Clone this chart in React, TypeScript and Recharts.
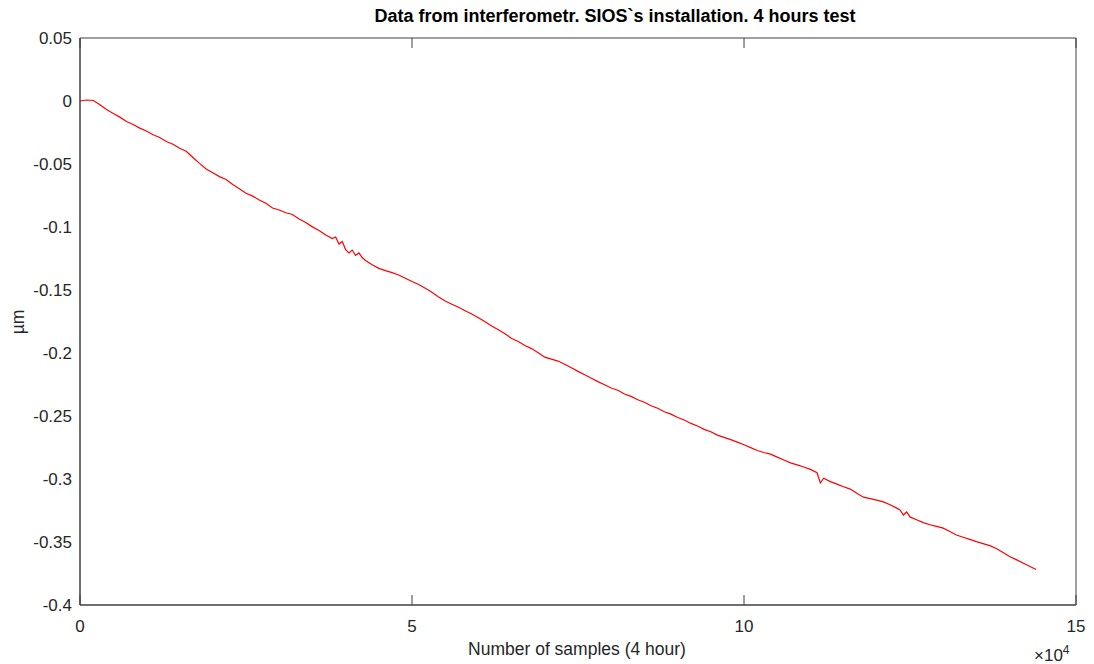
import { LineChart, Line, XAxis, YAxis } from "recharts";

// samples in thousands (x axis is shown as ×10^4)
const SAMPLES_K = [
  0, 1, 2, 3, 4, 5, 6, 7, 8, 9, 10, 11, 12, 13, 14, 15, 16, 17, 18, 19, 20,
  21, 22, 23, 24, 25, 26, 27, 28, 29, 30, 31, 32, 33, 34, 35, 36, 37, 38,
  38.5, 39, 39.5, 40, 40.5, 41, 41.5, 42, 42.5, 43, 44, 45, 46, 47, 48, 49,
  50, 51, 52, 53, 54, 55, 56, 57, 58, 59, 60, 61, 62, 63, 64, 65, 66, 67, 68,
  69, 70, 71, 72, 73, 74, 75, 76, 77, 78, 79, 80, 81, 82, 83, 84, 85, 86, 87,
  88, 89, 90, 91, 92, 93, 94, 95, 96, 97, 98, 99, 100, 101, 102, 103, 104,
  105, 106, 107, 108, 109, 110, 111, 111.5, 112, 113, 114, 115, 116, 117, 118,
  119, 120, 121, 122, 123, 123.5, 124, 124.5, 125, 126, 127, 128, 129, 130,
  131, 132, 133, 134, 135, 136, 137, 138, 139, 140, 141, 142, 143, 144,
];

// displacement, µm
const DISPLACEMENT = [
  0.0, 0.0008, 0.0004, -0.003, -0.0067, -0.01, -0.0128, -0.0163, -0.0187,
  -0.0215, -0.0238, -0.0268, -0.029, -0.0321, -0.0343, -0.0375, -0.0399,
  -0.0448, -0.0495, -0.0539, -0.057, -0.06, -0.0623, -0.0662, -0.0696,
  -0.0732, -0.0755, -0.0785, -0.0812, -0.0849, -0.0865, -0.0887, -0.0901,
  -0.0936, -0.0964, -0.0999, -0.1027, -0.1063, -0.1092,
  -0.1079, -0.1135, -0.1115, -0.1179, -0.1206, -0.1183, -0.1226, -0.1206,
  -0.1242, -0.1266, -0.1299, -0.1328, -0.1346, -0.1362, -0.1381, -0.1407,
  -0.1432, -0.1456, -0.1486, -0.1518, -0.1555, -0.1587, -0.1613, -0.1637,
  -0.1664, -0.1691, -0.172, -0.1752, -0.1785, -0.1816, -0.1847, -0.1885,
  -0.1908, -0.1941, -0.1965, -0.1998, -0.2033, -0.2049, -0.2064, -0.2089,
  -0.2117, -0.2146, -0.2173, -0.22, -0.2227, -0.2252, -0.2278, -0.2296,
  -0.2325, -0.2344, -0.2371, -0.2391, -0.2419, -0.2438, -0.2466, -0.2485,
  -0.2512, -0.2532, -0.2559, -0.2579, -0.2606, -0.2625, -0.2652, -0.267,
  -0.2688, -0.2707, -0.2728, -0.2751, -0.2774, -0.279, -0.2803, -0.2826,
  -0.2849, -0.2872, -0.2888, -0.2905, -0.2924, -0.295, -0.3032, -0.2994,
  -0.3021, -0.3041, -0.3061, -0.308, -0.3113, -0.3144, -0.3156, -0.3168,
  -0.3182, -0.3204, -0.3231, -0.3246, -0.3286, -0.3262, -0.3301, -0.3323,
  -0.3346, -0.3363, -0.3376, -0.339, -0.3417, -0.3444, -0.3462, -0.3479,
  -0.3497, -0.3513, -0.3529, -0.3552, -0.3583, -0.3615, -0.364, -0.3666,
  -0.3692, -0.3718,
];

const X_TICKS = [0, 50000, 100000, 150000];
const Y_TICKS = [0.05, 0, -0.05, -0.1, -0.15, -0.2, -0.25, -0.3, -0.35, -0.4];
const X_DOMAIN = [0, 150000];
const Y_DOMAIN = [-0.4, 0.05];

const data = SAMPLES_K.map((k, i) => ({ s: k * 1000, v: DISPLACEMENT[i] }));

const AXIS = "#404040";
const FONT = "'Liberation Sans', Arial, sans-serif";
const tickStyle = { fontSize: 17, fill: "#262626", fontFamily: FONT };
const noLabel = () => <g />;

export default function App() {
  return (
    <div style={{ position: "absolute", left: 0, top: 0, width: 1094, height: 664, background: "#fff", fontFamily: FONT }}>
      <div
        style={{
          position: "absolute",
          top: 6,
          left: 315,
          width: 600,
          textAlign: "center",
          fontWeight: "bold",
          fontSize: 18,
          color: "#000",
        }}
      >
        Data from interferometr. SIOS`s installation. 4 hours test
      </div>
      <div
        style={{
          position: "absolute",
          left: 18,
          top: 322,
          transform: "translate(-50%, -50%) rotate(-90deg)",
          fontSize: 17.5,
          color: "#262626",
        }}
      >
        µm
      </div>
      <div
        style={{
          position: "absolute",
          top: 639,
          left: 277,
          width: 600,
          textAlign: "center",
          fontSize: 17.5,
          color: "#262626",
        }}
      >
        Number of samples (4 hour)
      </div>
      <div style={{ position: "absolute", top: 643, left: 1034, fontSize: 17, color: "#262626" }}>
        ×10<sup style={{ fontSize: 12, verticalAlign: 7 }}>4</sup>
      </div>
      <LineChart
        width={1094}
        height={664}
        data={data}
        margin={{ top: 38, right: 18, left: 10, bottom: 9 }}
      >
        {/* inward tick marks on all four sides */}
        <XAxis xAxisId="bm" orientation="bottom" mirror dataKey="s" type="number" domain={X_DOMAIN} ticks={X_TICKS} tickSize={10} height={1} stroke={AXIS} tick={noLabel} interval={0} />
        <XAxis xAxisId="tm" orientation="top" mirror dataKey="s" type="number" domain={X_DOMAIN} ticks={X_TICKS} tickSize={10} height={1} stroke={AXIS} tick={noLabel} interval={0} />
        <YAxis yAxisId="lm" orientation="left" mirror type="number" domain={Y_DOMAIN} ticks={Y_TICKS} tickSize={10} width={1} stroke={AXIS} tick={noLabel} interval={0} />
        <YAxis yAxisId="rm" orientation="right" mirror type="number" domain={Y_DOMAIN} ticks={Y_TICKS} tickSize={10} width={1} stroke={AXIS} tick={noLabel} interval={0} />
        <XAxis
          xAxisId="b"
          dataKey="s"
          type="number"
          domain={X_DOMAIN}
          ticks={X_TICKS}
          tickFormatter={(v: number) => String(v / 10000)}
          tickLine={false}
          tickSize={0}
          tickMargin={15}
          height={50}
          stroke={AXIS}
          tick={tickStyle}
          interval={0}
        />
        <YAxis
          yAxisId="l"
          type="number"
          domain={Y_DOMAIN}
          ticks={Y_TICKS}
          tickFormatter={(v: number) => String(v)}
          tickLine={false}
          tickSize={0}
          tickMargin={8}
          width={70}
          stroke={AXIS}
          tick={tickStyle}
          interval={0}
          allowDataOverflow
        />
        <Line
          xAxisId="b"
          yAxisId="l"
          dataKey="v"
          stroke="#ff0000"
          strokeWidth={1.2}
          dot={false}
          type="linear"
          isAnimationActive={false}
        />
      </LineChart>
    </div>
  );
}
